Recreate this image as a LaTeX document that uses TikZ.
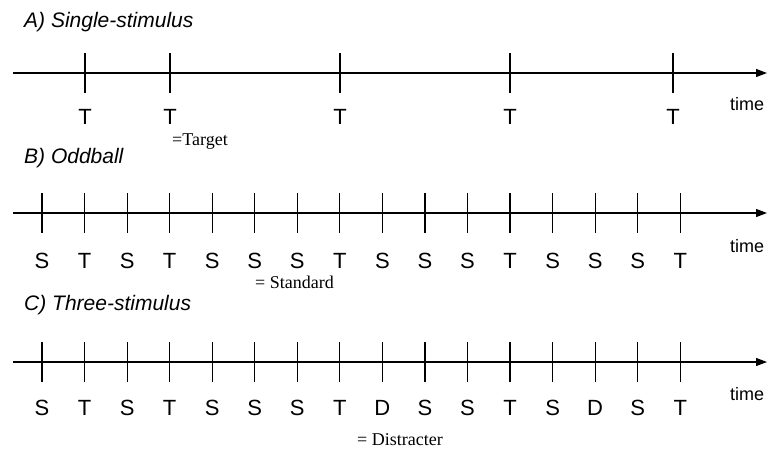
\documentclass[tikz,border=0pt]{standalone}
\usepackage{fontspec}
\setmainfont{Liberation Sans}
\newfontfamily\notefont{Liberation Serif}
\usetikzlibrary{arrows.meta}
\begin{document}
\begin{tikzpicture}[x=1pt,y=-1pt,
  axisline/.style={line width=1.2pt,-{Triangle[length=11pt,width=8pt]}},
  tickline/.style={line width=1.2pt},
  lbl/.style={anchor=base,inner sep=0pt,font=\fontsize{22}{22}\selectfont},
  timelbl/.style={anchor=base west,inner sep=0pt,font=\fontsize{18}{18}\selectfont},
  paneltitle/.style={anchor=base west,inner sep=0pt,font=\fontsize{21}{21}\selectfont\itshape},
  note/.style={anchor=base west,inner sep=0pt,font=\notefont\fontsize{18}{18}\selectfont}]
\useasboundingbox (0,0) rectangle (770,448);

% ---------- A) Single-stimulus ----------
\node[paneltitle] (ta) at (24,27) {A) Single-stimulus};
\coordinate (a0) at (13,73);
\coordinate (a1) at (767,73);
\draw[axisline] (a0) -- (a1);
\foreach \x [count=\i] in {85,170,340,510,673} {
  \coordinate (atop\i) at (\x,53);
  \coordinate (abot\i) at (\x,93);
  \draw[tickline] (atop\i) -- (abot\i);
  \node[lbl] (al\i) at (\x,124) {T};
}
\node[timelbl] (atime) at (730,110) {time};
\node[note] (anote) at (172,145) {=Target};

% ---------- B) Oddball ----------
\node[paneltitle] (tb) at (24,163) {B) Oddball};
\coordinate (b0) at (13,213);
\coordinate (b1) at (767,213);
\draw[axisline] (b0) -- (b1);
\foreach \l [count=\i] in {S,T,S,T,S,S,S,T,S,S,S,T,S,S,S,T} {
  \coordinate (btop\i) at ({42+42.55*(\i-1)},193);
  \coordinate (bbot\i) at ({42+42.55*(\i-1)},233);
  \draw[tickline] (btop\i) -- (bbot\i);
  \node[lbl] (bl\i) at ({42+42.55*(\i-1)},268) {\l};
}
\node[timelbl] (btime) at (730,252) {time};
\node[note] (bnote) at (255,288) {= Standard};

% ---------- C) Three-stimulus ----------
\node[paneltitle] (tc) at (24,310) {C) Three-stimulus};
\coordinate (c0) at (13,362);
\coordinate (c1) at (767,362);
\draw[axisline] (c0) -- (c1);
\foreach \l [count=\i] in {S,T,S,T,S,S,S,T,D,S,S,T,S,D,S,T} {
  \coordinate (ctop\i) at ({42+42.55*(\i-1)},342);
  \coordinate (cbot\i) at ({42+42.55*(\i-1)},382);
  \draw[tickline] (ctop\i) -- (cbot\i);
  \node[lbl] (cl\i) at ({42+42.55*(\i-1)},415) {\l};
}
\node[timelbl] (ctime) at (730,400) {time};
\node[note] (cnote) at (357,445) {= Distracter};
\end{tikzpicture}
\end{document}
